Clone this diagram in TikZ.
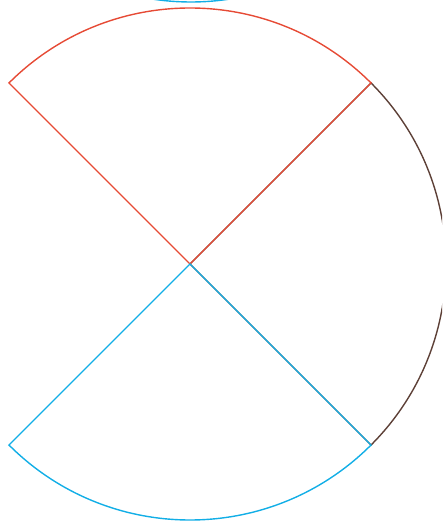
\documentclass[tikz,border=0pt]{standalone}
\definecolor{sred}{HTML}{E64A35}
\definecolor{sblue}{HTML}{12AEE6}
\definecolor{sbrown}{HTML}{5D4037}
\begin{document}
\begin{tikzpicture}[x=1pt,y=1pt,line width=1.4pt,line join=miter,
  sector/.style={line width=1.4pt}]
\useasboundingbox (0,0) rectangle (442,522);
\clip (0,0) rectangle (442,522);
\coordinate (c) at (190,258);
\draw[sector,sbrown] (c) -- ++(-45:256) arc[start angle=-45,end angle=45,radius=256] -- cycle;
\draw[sector,sred] (c) -- ++(45:256) arc[start angle=45,end angle=135,radius=256] -- cycle;
\draw[sector,sblue] (c) -- ++(225:256) arc[start angle=225,end angle=315,radius=256] -- cycle;
\coordinate (t) at (191,776);
\draw[sector,sblue] (t) ++(255:256) arc[start angle=255,end angle=285,radius=256];
\end{tikzpicture}
\end{document}
